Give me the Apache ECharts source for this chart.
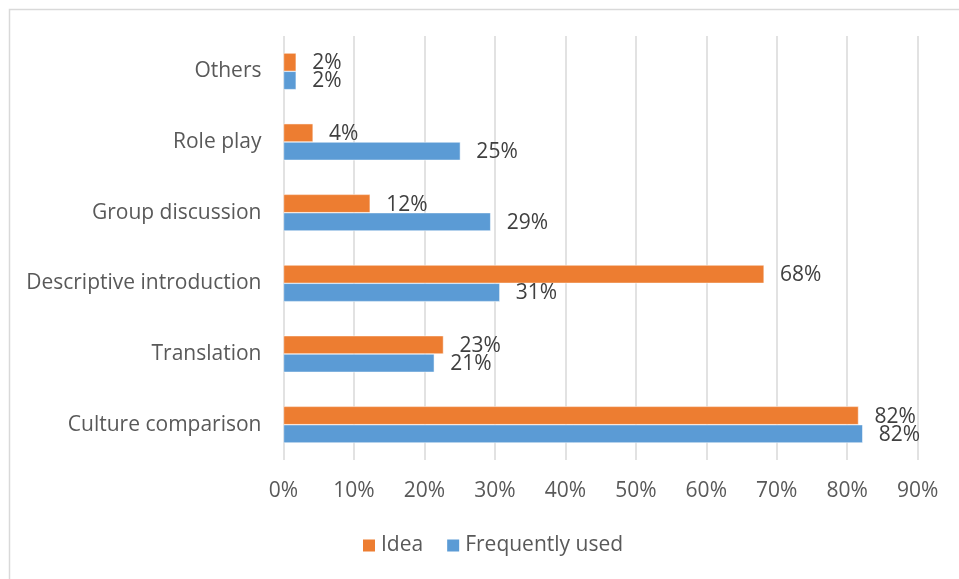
<!DOCTYPE html>
<html>
<head>
<meta charset="utf-8">
<script src="https://cdn.jsdelivr.net/npm/echarts@6/dist/echarts.min.js"></script>
<style>
  html, body { margin: 0; padding: 0; background: #fff; }
  #chart { width: 959px; height: 579px; }
</style>
</head>
<body>
<div id="chart"></div>
<script>
// Teaching methods, listed bottom to top on the category axis
const categories = ['Culture comparison', 'Translation', 'Descriptive introduction', 'Group discussion', 'Role play', 'Others'];
// Percent of respondents
const ideaValues = [81.6, 22.7, 68.2, 12.3, 4.2, 1.8];
const frequentlyUsedValues = [82.2, 21.4, 30.7, 29.4, 25.1, 1.8];
const xTicks = [0, 10, 20, 30, 40, 50, 60, 70, 80, 90];

const FONT = '"Open Sans", sans-serif';
const FONT_SIZE = 21;

const chart = echarts.init(document.getElementById('chart'), null, { renderer: 'canvas' });

const valueLabel = {
  show: true,
  position: 'right',
  distance: 16,
  offset: [0, 1],
  color: '#404040',
  fontFamily: FONT,
  fontSize: FONT_SIZE,
  formatter: p => Math.round(p.value) + '%'
};

chart.setOption({
  animation: false,
  backgroundColor: '#ffffff',
  graphic: [{
    type: 'rect',
    left: 7, top: 7,
    shape: { width: 1000, height: 1000 },
    style: { fill: 'none', stroke: '#d9d9d9', lineWidth: 1.5 },
    silent: true
  }],
  grid: { left: 283.5, right: 41.3, top: 36, bottom: 119, containLabel: false },
  legend: {
    data: ['Idea', 'Frequently used'],
    bottom: 18,
    left: 356,
    itemWidth: 14,
    itemHeight: 14,
    itemGap: 22,
    icon: 'rect',
    textStyle: { color: '#595959', fontFamily: FONT, fontSize: FONT_SIZE }
  },
  xAxis: {
    type: 'value',
    min: xTicks[0],
    max: xTicks[xTicks.length - 1],
    interval: 10,
    axisLine: { show: false },
    axisTick: { show: false },
    axisLabel: {
      color: '#595959', fontFamily: FONT, fontSize: FONT_SIZE, margin: 21,
      formatter: v => v + '%'
    },
    splitLine: { show: true, lineStyle: { color: '#d9d9d9', width: 1.5 } }
  },
  yAxis: {
    type: 'category',
    data: categories,
    axisLine: { show: false },
    axisTick: { show: false },
    splitLine: { show: false },
    axisLabel: {
      color: '#595959', fontFamily: FONT, fontSize: FONT_SIZE, margin: 22,
      padding: [4, 0, 0, 0]
    }
  },
  series: [
    {
      name: 'Idea',
      type: 'bar',
      data: ideaValues,
      barWidth: 18.3,
      barGap: '0%',
      itemStyle: { color: '#ED7D31', borderColor: '#ffffff', borderWidth: 0.5 },
      label: valueLabel
    },
    {
      name: 'Frequently used',
      type: 'bar',
      data: frequentlyUsedValues,
      barWidth: 18.3,
      barGap: '0%',
      itemStyle: { color: '#5B9BD5', borderColor: '#ffffff', borderWidth: 0.5 },
      label: valueLabel
    }
  ]
});
</script>
</body>
</html>
